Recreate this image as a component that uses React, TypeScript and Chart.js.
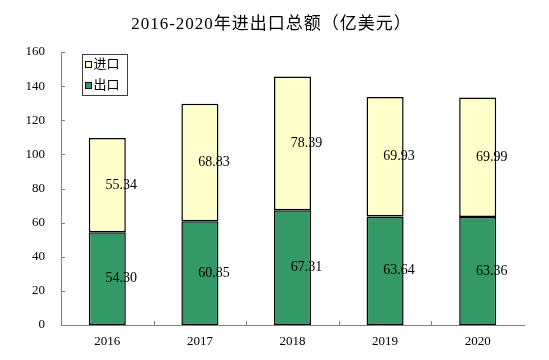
import React, { useEffect, useRef } from "react";
import { Chart, registerables } from "chart.js";

Chart.register(...registerables);

const titleText = "2016-2020年进出口总额（亿美元）";
const categories = ["2016", "2017", "2018", "2019", "2020"];
const exportLabel = "出口";
const importLabel = "进口";
const exportValues = [54.3, 60.85, 67.31, 63.64, 63.36];
const importValues = [55.34, 68.83, 78.39, 69.93, 69.99];
const yMin = 0;
const yMax = 160;
const yStep = 20;

const FONT = "'Liberation Serif', 'Times New Roman', 'Noto Sans CJK SC', serif";
const CJK = "'Liberation Serif', 'Noto Sans CJK SC', serif";

const decorPlugin = {
  id: "decor",
  afterDraw(chart: any) {
    const ctx = chart.ctx;
    const area = chart.chartArea;
    const xs = chart.scales.x;
    const ys = chart.scales.y;
    ctx.save();
    // title
    ctx.fillStyle = "#000";
    ctx.font = `17px ${CJK}`;
    (ctx as any).letterSpacing = "1px";
    ctx.textAlign = "center";
    ctx.textBaseline = "middle";
    ctx.fillText(titleText, (area.left + area.right) / 2 - 21, 25);
    (ctx as any).letterSpacing = "0px";

    // inward ticks on y axis
    ctx.strokeStyle = "#808080";
    ctx.lineWidth = 1;
    ys.ticks.forEach((t: any) => {
      const y = Math.round(ys.getPixelForValue(t.value)) + 0.5;
      ctx.beginPath();
      ctx.moveTo(area.left, y);
      ctx.lineTo(area.left + 4, y);
      ctx.stroke();
    });
    // inward ticks on x axis at category boundaries
    const n = categories.length;
    for (let i = 1; i < n; i++) {
      const x = Math.round((xs.getPixelForValue(i - 1) + xs.getPixelForValue(i)) / 2) + 0.5;
      ctx.beginPath();
      ctx.moveTo(x, area.bottom);
      ctx.lineTo(x, area.bottom - 4);
      ctx.stroke();
    }

    // data labels
    ctx.fillStyle = "#000";
    ctx.font = `14px ${FONT}`;
    ctx.textAlign = "center";
    ctx.textBaseline = "middle";
    chart.data.datasets.forEach((ds: any, di: number) => {
      const meta = chart.getDatasetMeta(di);
      meta.data.forEach((el: any, i: number) => {
        const v = ds.data[i];
        ctx.fillText(Number(v).toFixed(2), el.x + 14, (el.y + el.base) / 2);
      });
    });

    // legend
    const lx = area.left + 21.5;
    const ly = area.top + 2.5;
    const lw = 45;
    const lh = 41;
    ctx.fillStyle = "#fff";
    ctx.fillRect(lx, ly, lw, lh);
    ctx.strokeStyle = "#404040";
    ctx.strokeRect(lx, ly, lw, lh);
    const items = [...chart.data.datasets].reverse();
    items.forEach((ds: any, i: number) => {
      const cy = ly + 10 + i * 21;
      ctx.fillStyle = ds.backgroundColor;
      ctx.fillRect(lx + 3, cy - 3, 6, 6);
      ctx.strokeStyle = "#000";
      ctx.strokeRect(lx + 3, cy - 3, 6, 6);
      ctx.fillStyle = "#000";
      ctx.font = `13px ${CJK}`;
      ctx.textAlign = "left";
      ctx.textBaseline = "middle";
      ctx.fillText(ds.label, lx + 11, cy);
    });
    ctx.restore();
  },
};

export default function App() {
  const ref = useRef<HTMLCanvasElement>(null);
  useEffect(() => {
    if (!ref.current) return;
    const chart = new Chart(ref.current, {
      type: "bar",
      data: {
        labels: categories,
        datasets: [
          {
            label: exportLabel,
            data: exportValues,
            backgroundColor: "#339966",
            borderColor: "#000",
            borderWidth: 1.5,
            borderSkipped: false,
            categoryPercentage: 0.8,
            barPercentage: 0.5,
          },
          {
            label: importLabel,
            data: importValues,
            backgroundColor: "#FFFFCC",
            borderColor: "#000",
            borderWidth: 1.5,
            borderSkipped: false,
            categoryPercentage: 0.8,
            barPercentage: 0.5,
          },
        ],
      },
      options: {
        animation: false,
        responsive: false,
        layout: { padding: { top: 52, right: 25, left: 0, bottom: 0 } },
        plugins: {
          legend: { display: false },
          title: { display: false },
          tooltip: { enabled: false },
        },
        scales: {
          x: {
            stacked: true,
            grid: { display: false, drawTicks: false },
            border: { display: true, color: "#808080", width: 1 },
            ticks: { color: "#000", font: { family: FONT, size: 13 }, padding: 9 },
            afterFit: (s: any) => {
              s.height = 35;
            },
          },
          y: {
            stacked: true,
            min: yMin,
            max: yMax,
            grid: { display: false, drawTicks: false },
            border: { display: true, color: "#808080", width: 1 },
            ticks: {
              stepSize: yStep,
              color: "#000",
              font: { family: FONT, size: 13 },
              padding: 16,
            },
            afterFit: (s: any) => {
              s.width = 61;
            },
          },
        },
      },
      plugins: [decorPlugin],
    });
    return () => chart.destroy();
  }, []);
  return (
    <div style={{ position: "fixed", left: 0, top: 0, width: 549, height: 360, background: "#fff" }}>
      <canvas ref={ref} width={549} height={360} />
    </div>
  );
}
